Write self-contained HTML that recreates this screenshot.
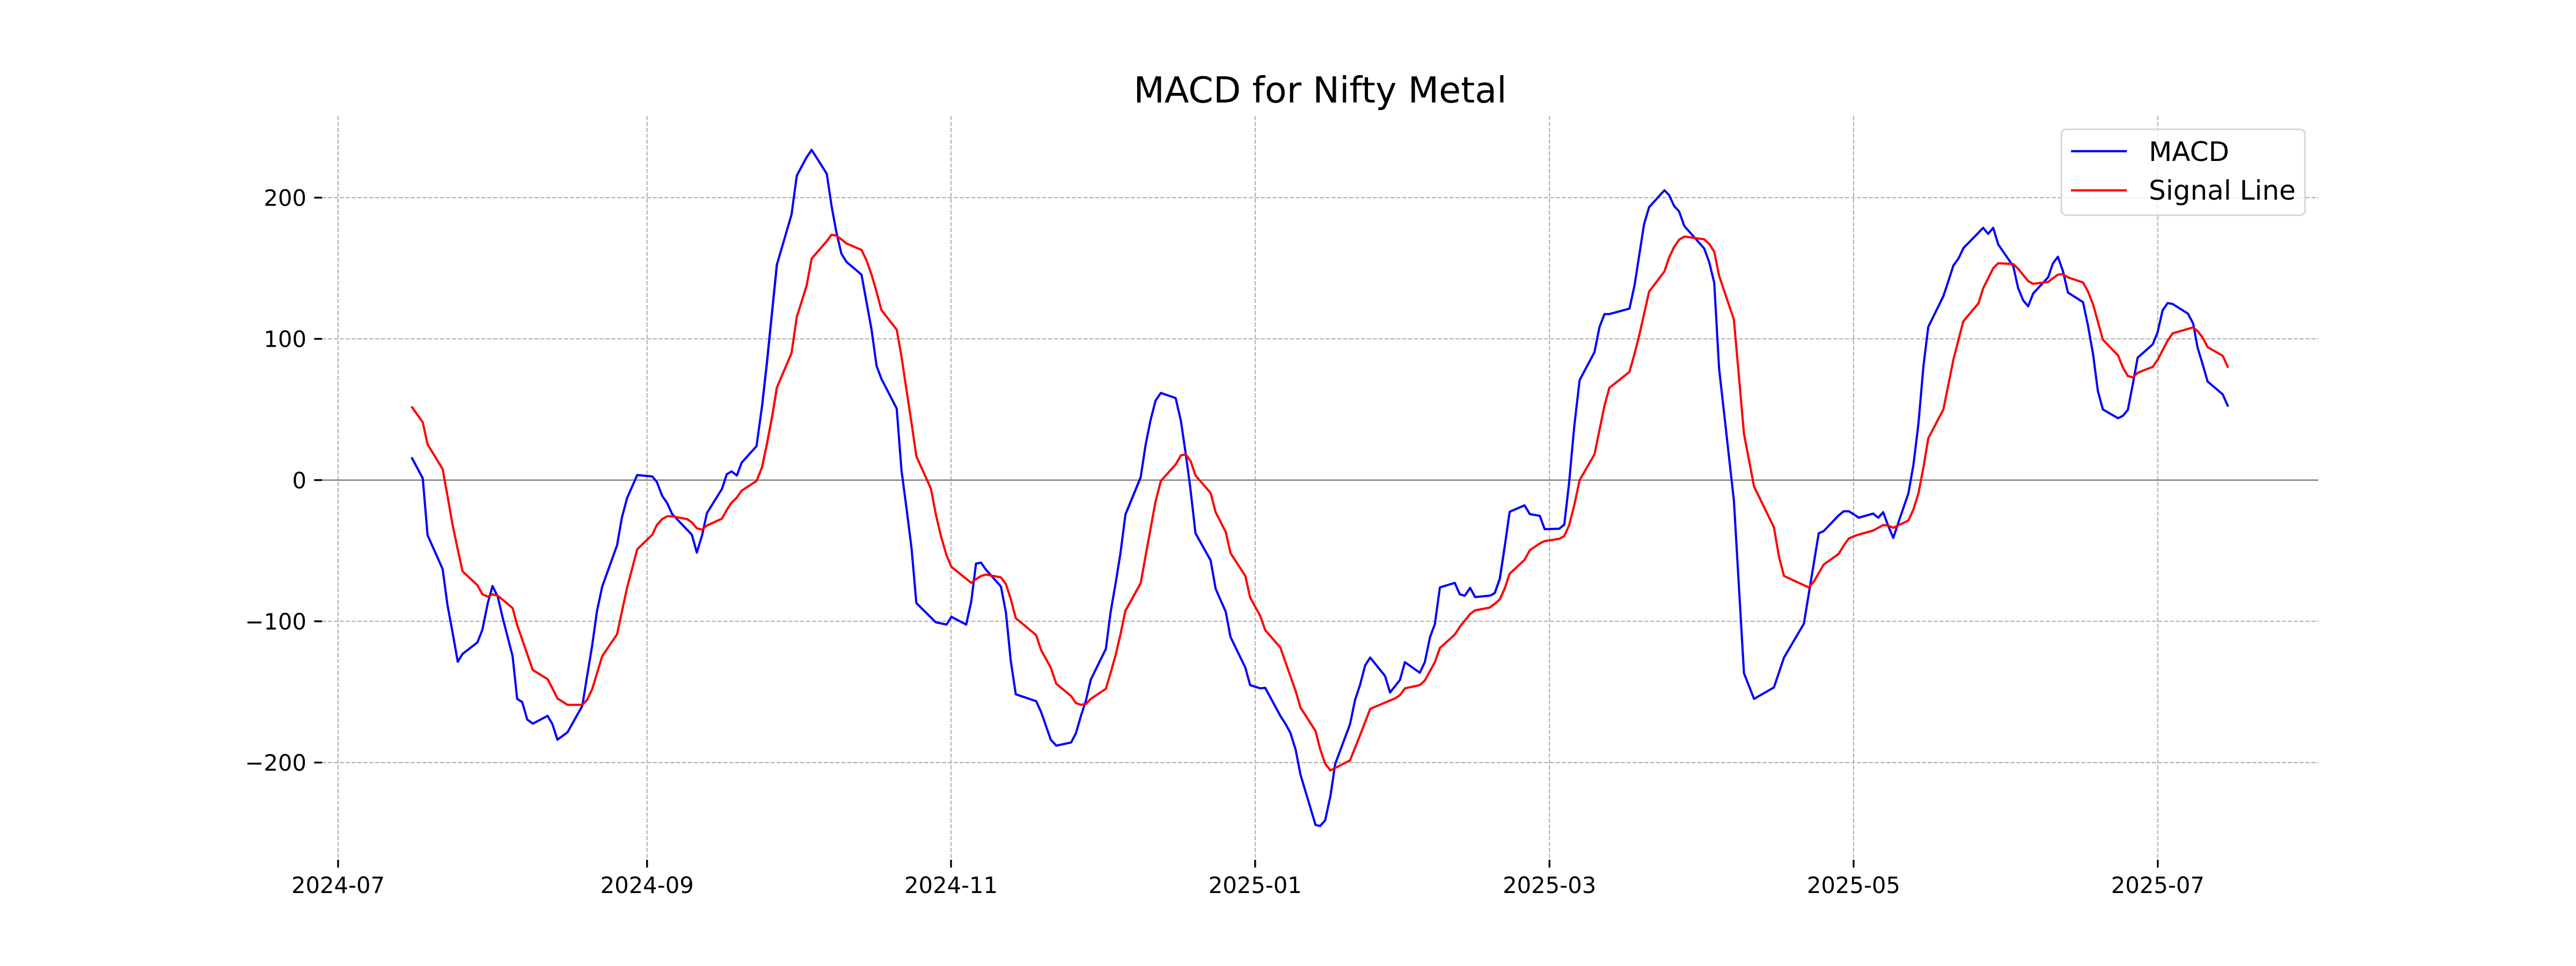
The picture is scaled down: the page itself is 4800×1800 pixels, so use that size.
<!DOCTYPE html>
<html>
<head>
<meta charset="utf-8">
<style>
  html, body { margin: 0; padding: 0; background: #ffffff; }
  svg { display: block; }
  text { font-family: "DejaVu Sans", "Liberation Sans", sans-serif; fill: #000; }
</style>
</head>
<body>
<svg xmlns="http://www.w3.org/2000/svg" width="4800" height="1800" viewBox="0 0 4800 1800">
  <rect x="0" y="0" width="4800" height="1800" fill="#ffffff"/>

  <!-- grid -->
  <g stroke="#b0b0b0" stroke-width="2.08" stroke-dasharray="7.7 3.3" fill="none">
    <line x1="600" y1="368.3" x2="4320" y2="368.3"/>
    <line x1="600" y1="631.4" x2="4320" y2="631.4"/>
    <line x1="600" y1="1157.7" x2="4320" y2="1157.7"/>
    <line x1="600" y1="1420.9" x2="4320" y2="1420.9"/>
    <line x1="630" y1="216" x2="630" y2="1602"/>
    <line x1="1205.7" y1="216" x2="1205.7" y2="1602"/>
    <line x1="1772.1" y1="216" x2="1772.1" y2="1602"/>
    <line x1="2338.8" y1="216" x2="2338.8" y2="1602"/>
    <line x1="2887.2" y1="216" x2="2887.2" y2="1602"/>
    <line x1="3453.9" y1="216" x2="3453.9" y2="1602"/>
    <line x1="4020.7" y1="216" x2="4020.7" y2="1602"/>
  </g>

  <!-- zero line -->
  <line x1="600" y1="894.6" x2="4320" y2="894.6" stroke="#808080" stroke-width="2.5"/>

  <!-- MACD (blue) -->
  <g fill="none" stroke="#0000ff" stroke-width="4.1" stroke-linejoin="round" stroke-linecap="round">
    <g transform="translate(740,240) scale(0.446429,0.854592)">
      <polyline vector-effect="non-scaling-stroke" points="62,718 107,762 127,886 190,960 210,1038 232,1100 253,1162 273,1145 335,1120 356,1092 378,1035 398,997 420,1020 440,1065 482,1150 501,1243 522,1250 543,1288 566,1297 628,1280 648,1298 669,1332 711,1316 773,1258 793,1193 814,1127 834,1052 856,998 918,908 938,848 960,805 1002,755 1065,758 1084,770 1106,800 1127,816 1148,840 1230,885 1251,924 1273,886 1293,838 1356,785 1376,753 1396,747 1418,756 1438,728 1500,692 1523,605 1543,512 1585,296"/>
    </g>
    <g transform="translate(1420,240) scale(0.446429,0.854592)">
      <polyline vector-effect="non-scaling-stroke" points="0,605 20,512 62,296 123,187 145,102 186,62 207,46 270,98 290,168 310,225 331,272 352,290 415,318 436,378 457,438 478,517 498,545 562,610 582,745 603,828 624,915 644,1034 725,1076 770,1081 790,1064 852,1081 873,1031 893,948 914,946 934,961 997,998 1018,1055 1038,1160 1059,1233 1144,1248 1165,1272 1205,1332 1228,1345 1290,1338 1310,1318 1331,1280 1352,1246 1372,1201 1435,1134 1455,1053 1476,990 1496,925 1517,840 1523,833 1580,760"/>
    </g>
    <g transform="translate(2100,240) scale(0.446429,0.854592)">
      <polyline vector-effect="non-scaling-stroke" points="0,833 57,760 78,688 98,636 119,593 141,576 203,587 225,637 245,708 264,782 286,882 349,941 370,1003 412,1053 432,1108 494,1175 514,1213 556,1220 577,1219 640,1280 662,1298 682,1317 704,1354 724,1408 787,1518 806,1520 827,1508 849,1455 869,1385 931,1298 952,1245 973,1212 994,1170 1015,1153 1077,1193 1098,1229 1139,1202 1160,1163 1222,1186 1243,1163 1265,1108 1285,1080 1306,1000 1368,990 1389,1015 1410,1018 1432,1001 1453,1021 1514,1018 1523,1016 1535,1012 1556,981 1576,912"/>
    </g>
    <g transform="translate(2780,240) scale(0.446429,0.854592)">
      <polyline vector-effect="non-scaling-stroke" points="0,1016 12,1012 33,981 53,912 74,835 136,821 158,840 200,844 220,873 281,872 302,863 322,772 344,647 366,548 428,487 449,432 470,404 490,404 574,392 595,342 635,208 656,171 720,134 740,145 760,168 781,180 803,212 886,261 907,291 928,336 948,522 1010,811 1052,1187 1094,1243 1177,1218 1219,1153 1302,1079 1364,882 1385,877 1447,843 1468,834 1490,834 1523,845 1531,848 1591,839"/>
    </g>
    <g transform="translate(3460,240) scale(0.446429,0.854592)">
      <polyline vector-effect="non-scaling-stroke" points="0,845 8,848 68,839 89,848 110,836 131,866 152,892 173,859 215,795 236,733 257,643 278,517 298,432 361,365 382,332 403,298 424,283 445,260 527,216 548,229 569,216 590,252 653,300 673,347 694,374 715,387 736,359 798,324 818,294 839,279 860,310 881,357 944,378 965,430 986,492 1006,572 1027,612 1090,631 1110,626 1131,613 1152,556 1172,499 1235,470 1255,444 1276,396 1297,380 1318,382 1382,403 1404,425 1422,477 1443,513 1464,551 1527,579 1548,604"/>
    </g>
  </g>

  <!-- Signal line (red) -->
  <g fill="none" stroke="#ff0000" stroke-width="4.1" stroke-linejoin="round" stroke-linecap="round">
    <g transform="translate(740,240) scale(0.446429,0.854592)">
      <polyline vector-effect="non-scaling-stroke" points="62,607 107,640 127,688 190,742 210,800 232,865 253,917 273,965 335,995 356,1015 378,1020 398,1015 420,1018 482,1045 501,1082 566,1180 628,1200 648,1220 669,1242 711,1256 773,1256 793,1245 814,1222 856,1150 918,1102 938,1053 960,1000 1002,917 1065,885 1084,864 1106,851 1127,845 1148,845 1210,851 1230,858 1251,871 1273,874 1293,865 1356,850 1376,831 1396,815 1418,804 1438,789 1500,768 1523,738 1543,688 1565,628 1585,564"/>
    </g>
    <g transform="translate(1420,240) scale(0.446429,0.854592)">
      <polyline vector-effect="non-scaling-stroke" points="0,738 20,688 42,628 62,564 123,489 145,410 186,342 207,283 270,245 290,231 310,233 331,241 352,250 415,264 436,287 457,318 478,356 498,395 562,438 582,497 603,570 624,642 644,714 705,785 725,840 746,887 770,930 790,955 873,990 893,982 914,975 934,972 997,978 1018,993 1038,1025 1059,1067 1144,1104 1165,1137 1205,1175 1228,1210 1290,1237 1310,1252 1331,1256 1352,1254 1372,1243 1435,1221 1455,1186 1476,1147 1496,1102 1517,1050 1523,1045 1580,991"/>
    </g>
    <g transform="translate(2100,240) scale(0.446429,0.854592)">
      <polyline vector-effect="non-scaling-stroke" points="0,1045 57,991 78,930 98,873 119,813 141,768 203,732 225,712 245,710 266,725 286,756 349,794 370,836 412,879 432,925 494,975 514,1022 556,1062 577,1093 640,1131 662,1164 704,1226 724,1262 787,1313 806,1352 827,1384 849,1399 931,1377 973,1322 1015,1265 1077,1251 1119,1242 1139,1235 1160,1220 1222,1213 1243,1203 1285,1163 1306,1132 1368,1103 1389,1086 1432,1058 1453,1050 1514,1044 1523,1040 1535,1036 1556,1026 1576,1003"/>
    </g>
    <g transform="translate(2780,240) scale(0.446429,0.854592)">
      <polyline vector-effect="non-scaling-stroke" points="0,1040 12,1036 33,1026 53,1003 74,970 136,940 158,919 200,904 220,899 281,894 302,888 322,865 344,820 366,766 428,710 470,603 490,565 574,530 595,491 615,450 656,355 720,311 740,280 760,258 781,242 803,235 886,241 907,251 928,268 948,320 1010,416 1052,665 1094,780 1177,869 1198,933 1219,975 1302,995 1323,1000 1344,987 1385,950 1447,927 1468,909 1490,893 1523,886 1591,876"/>
    </g>
    <g transform="translate(3460,240) scale(0.446429,0.854592)">
      <polyline vector-effect="non-scaling-stroke" points="0,886 68,876 89,870 110,864 131,865 152,870 215,854 236,830 257,795 278,738 298,675 361,612 382,558 403,503 444,420 508,380 527,348 569,304 590,293 653,295 673,305 715,332 736,338 798,334 818,326 839,318 860,317 881,324 944,335 965,355 986,383 1027,460 1090,494 1110,520 1131,539 1152,542 1172,532 1235,519 1255,504 1297,462 1318,446 1403,433 1422,441 1443,455 1464,476 1527,495 1548,519"/>
    </g>
  </g>

  <!-- ticks -->
  <g stroke="#000" stroke-width="3.33">
    <line x1="585.4" y1="368.3" x2="600" y2="368.3"/>
    <line x1="585.4" y1="631.4" x2="600" y2="631.4"/>
    <line x1="585.4" y1="894.6" x2="600" y2="894.6"/>
    <line x1="585.4" y1="1157.7" x2="600" y2="1157.7"/>
    <line x1="585.4" y1="1420.9" x2="600" y2="1420.9"/>
    <line x1="630" y1="1602" x2="630" y2="1616.6"/>
    <line x1="1205.7" y1="1602" x2="1205.7" y2="1616.6"/>
    <line x1="1772.1" y1="1602" x2="1772.1" y2="1616.6"/>
    <line x1="2338.8" y1="1602" x2="2338.8" y2="1616.6"/>
    <line x1="2887.2" y1="1602" x2="2887.2" y2="1616.6"/>
    <line x1="3453.9" y1="1602" x2="3453.9" y2="1616.6"/>
    <line x1="4020.7" y1="1602" x2="4020.7" y2="1616.6"/>
  </g>

  <!-- y tick labels -->
  <g font-size="41.67" text-anchor="end">
    <text x="571" y="383.5">200</text>
    <text x="571" y="646.6">100</text>
    <text x="571" y="909.8">0</text>
    <text x="571" y="1172.9">−100</text>
    <text x="571" y="1436.1">−200</text>
  </g>

  <!-- x tick labels -->
  <g font-size="41.67" text-anchor="middle">
    <text x="630" y="1664">2024-07</text>
    <text x="1205.7" y="1664">2024-09</text>
    <text x="1772.1" y="1664">2024-11</text>
    <text x="2338.8" y="1664">2025-01</text>
    <text x="2887.2" y="1664">2025-03</text>
    <text x="3453.9" y="1664">2025-05</text>
    <text x="4020.7" y="1664">2025-07</text>
  </g>

  <!-- title -->
  <text x="2460" y="191" font-size="66.67" text-anchor="middle">MACD for Nifty Metal</text>

  <!-- legend -->
  <rect x="3841" y="241" width="454" height="160" rx="9" ry="9" fill="#ffffff" fill-opacity="0.8" stroke="#d6d6d6" stroke-width="3"/>
  <line x1="3859" y1="281.7" x2="3963" y2="281.7" stroke="#0000ff" stroke-width="4.1"/>
  <line x1="3859" y1="354.7" x2="3963" y2="354.7" stroke="#ff0000" stroke-width="4.1"/>
  <text x="4004" y="300" font-size="50">MACD</text>
  <text x="4004" y="372" font-size="50">Signal Line</text>
</svg>
</body>
</html>
